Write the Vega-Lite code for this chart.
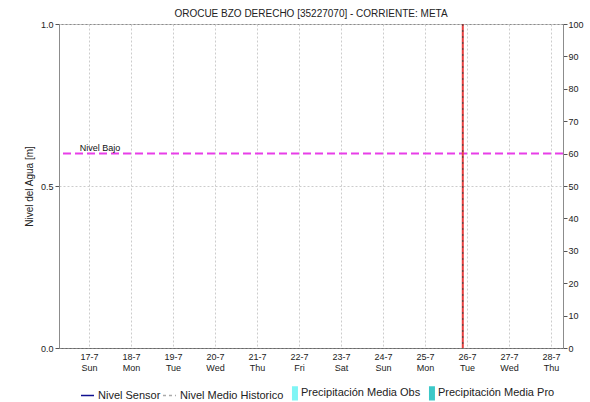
{
  "$schema": "https://vega.github.io/schema/vega-lite/v6.json",
  "width": 504,
  "height": 324,
  "autosize": "none",
  "padding": {"left": 59, "top": 24, "right": 27, "bottom": 54},
  "background": "white",
  "title": {
    "text": "OROCUE BZO DERECHO [35227070] - CORRIENTE: META",
    "font": "Liberation Sans",
    "fontSize": 10,
    "fontWeight": "normal",
    "color": "#222222",
    "offset": 1,
    "anchor": "middle"
  },
  "config": {
    "view": {"stroke": "#8c8c8c", "strokeWidth": 1},
    "axis": {"labelFont": "Liberation Sans", "titleFont": "Liberation Sans", "labelColor": "#222222", "titleColor": "#222222"},
    "legend": {"labelFont": "Liberation Sans"}
  },
  "datasets": {
    "limites": [{"nivel": "Nivel Bajo", "valor": 0.6, "dia": 16.78}],
    "marcador": [{"dia": 25.9}],
    "series": [
      {"serie": "Nivel Sensor", "dia": 20, "y": -20},
      {"serie": "Nivel Medio Historico", "dia": 20, "y": -20},
      {"serie": "Precipitación Media Obs", "dia": 20, "y": -20},
      {"serie": "Precipitación Media Pro", "dia": 20, "y": -20}
    ]
  },
  "layer": [
    {
      "layer": [
        {
          "data": {"name": "limites"},
          "mark": {"type": "rule", "color": "#e83ee8", "strokeWidth": 2, "strokeDash": [8, 4]},
          "encoding": {
            "y": {
              "field": "valor",
              "type": "quantitative",
              "scale": {"domain": [0, 1], "nice": false, "zero": false},
              "axis": {
                "title": "Nivel del Agua [m]",
                "values": [0, 0.5, 1],
                "format": ".1f",
                "grid": true,
                "gridColor": "#cccccc",
                "gridDash": [2, 2],
                "tickSize": 4,
                "tickColor": "#555555",
                "domainColor": "#8c8c8c",
                "labelFontSize": 9,
                "labelPadding": 2,
                "titleFontSize": 10,
                "titleFontWeight": "normal",
                "titlePadding": 6
              }
            }
          }
        },
        {
          "data": {"name": "limites"},
          "mark": {"type": "text", "align": "left", "baseline": "alphabetic", "dy": -3, "font": "Liberation Sans", "fontSize": 9, "color": "#111111"},
          "encoding": {
            "x": {"field": "dia", "type": "quantitative", "title": null},
            "y": {"field": "valor", "type": "quantitative"},
            "text": {"field": "nivel"}
          }
        },
        {
          "data": {"name": "marcador"},
          "mark": {"type": "rule", "color": "#e84040", "strokeWidth": 2},
          "encoding": {
            "x": {
              "field": "dia",
              "type": "quantitative",
              "title": null,
              "scale": {"domain": [16.286, 28.286], "nice": false, "zero": false},
              "axis": {
                "title": null,
                "values": [17, 18, 19, 20, 21, 22, 23, 24, 25, 26, 27, 28],
                "labelExpr": "[datum.value + '-7', ['Sun','Mon','Tue','Wed','Thu','Fri','Sat'][(datum.value - 17) % 7]]",
                "grid": true,
                "gridColor": "#cccccc",
                "gridDash": [2, 2],
                "ticks": false,
                "domainColor": "#444444",
                "domainDash": [1, 1],
                "labelFontSize": 9,
                "labelLineHeight": 11,
                "labelPadding": 4
              }
            }
          }
        },
        {
          "data": {"name": "marcador"},
          "mark": {"type": "rule", "color": "#444444", "strokeWidth": 1, "strokeDash": [2, 4]},
          "encoding": {"x": {"field": "dia", "type": "quantitative", "title": null}}
        }
      ]
    },
    {
      "data": {"name": "series"},
      "mark": {"type": "point", "clip": true, "opacity": 1, "size": 144, "strokeWidth": 1.3},
      "encoding": {
        "x": {"field": "dia", "type": "quantitative", "title": null},
        "y": {
          "field": "y",
          "type": "quantitative",
          "scale": {"domain": [0, 100], "nice": false},
          "axis": {
            "orient": "right",
            "title": null,
            "values": [0, 10, 20, 30, 40, 50, 60, 70, 80, 90, 100],
            "grid": false,
            "tickSize": 4,
            "tickColor": "#555555",
            "domainColor": "#8c8c8c",
            "labelFontSize": 9,
            "labelPadding": 1
          }
        },
        "fill": {
          "field": "serie",
          "type": "nominal",
          "scale": {
            "domain": ["Nivel Sensor", "Nivel Medio Historico", "Precipitación Media Obs", "Precipitación Media Pro"],
            "range": ["transparent", "transparent", "#7ff5f5", "#3cc8c8"]
          },
          "legend": {
            "title": null,
            "orient": "none",
            "direction": "horizontal",
            "columns": 4,
            "legendX": 22,
            "legendY": 362,
            "columnPadding": -1,
            "labelOffset": 3,
            "labelFontSize": 11,
            "labelColor": "#222222",
            "symbolSize": 144,
            "symbolStrokeWidth": 1.3
          }
        },
        "stroke": {
          "field": "serie",
          "type": "nominal",
          "scale": {
            "domain": ["Nivel Sensor", "Nivel Medio Historico", "Precipitación Media Obs", "Precipitación Media Pro"],
            "range": ["#101090", "#aaaaaa", "#7ff5f5", "#3cc8c8"]
          }
        },
        "shape": {
          "field": "serie",
          "type": "nominal",
          "scale": {
            "domain": ["Nivel Sensor", "Nivel Medio Historico", "Precipitación Media Obs", "Precipitación Media Pro"],
            "range": ["M-1.17,0H1", "M-1.17,0H1", "M0.27,-1.08H1.05V1.08H0.27Z", "M0.27,-1.08H1.05V1.08H0.27Z"]
          }
        },
        "strokeDash": {
          "field": "serie",
          "type": "nominal",
          "scale": {
            "domain": ["Nivel Sensor", "Nivel Medio Historico", "Precipitación Media Obs", "Precipitación Media Pro"],
            "range": [[1, 0], [3, 3], [1, 0], [1, 0]]
          }
        }
      }
    }
  ],
  "resolve": {"scale": {"y": "independent"}}
}
